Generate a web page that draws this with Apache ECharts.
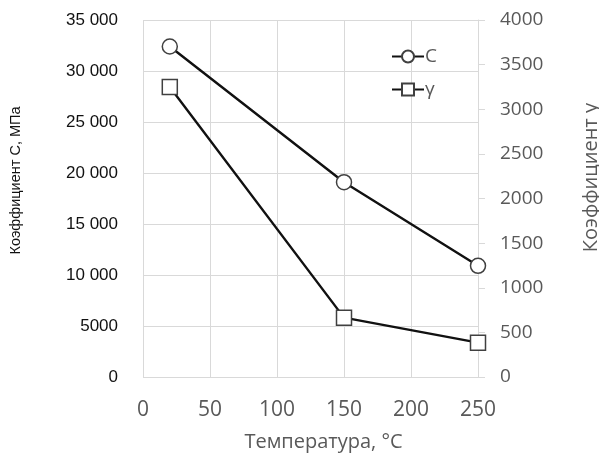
<!DOCTYPE html>
<html><head><meta charset="utf-8">
<script src="https://cdn.jsdelivr.net/npm/echarts@6/dist/echarts.min.js"></script>
<style>html,body{margin:0;padding:0;background:#fff}#c{width:599px;height:461px}</style>
</head><body><div id="c"></div>
<script>
const temps = [20, 150, 250];
const coefC = [32400, 19100, 10900];
const coefGamma = [3250, 665, 385];
const xTicks = [0, 50, 100, 150, 200, 250];
const seriesNames = ['C', 'γ'];

const gray = '#595959';
const gridCol = '#d9d9d9';
const chart = echarts.init(document.getElementById('c'), null, {renderer: 'canvas'});
function fmtLeft(v){ return v >= 10000 ? String(v).replace(/(\d)(?=(\d{3})+$)/g, '$1 ') : String(v); }
chart.setOption({
  animation: false,
  backgroundColor: '#fff',
  grid: {left: 143, right: 121, top: 20, bottom: 84, containLabel: false, outerBoundsMode: 'none'},
  legend: {
    orient: 'vertical', left: 386, top: 42, itemGap: 14, itemWidth: 32, itemHeight: 15,
    textStyle: {color: gray, fontFamily: 'Open Sans', fontSize: 19, padding: [0,0,0,-4]},
    data: seriesNames
  },
  xAxis: {
    type: 'value', min: 0, max: 250, interval: 50,
    name: 'Температура, °C', nameLocation: 'middle', nameGap: 55,
    nameTextStyle: {color: gray, fontFamily: 'Open Sans', fontSize: 20, padding: [0,0,0,26]},
    axisLine: {show: false}, axisTick: {show: false},
    axisLabel: {color: gray, fontFamily: 'Open Sans', fontSize: 21, margin: 23,
      formatter: v => xTicks.includes(v) ? String(v) : ''},
    splitLine: {show: true, lineStyle: {color: gridCol, width: 1}}
  },
  yAxis: [{
    type: 'value', min: 0, max: 35000, interval: 5000, position: 'left',
    name: 'Коэффициент С, МПа', nameLocation: 'middle', nameGap: 120, nameRotate: 90,
    nameTextStyle: {color: '#111', fontFamily: 'Liberation Sans', fontSize: 14.5, padding: [0,0,0,36]},
    axisLine: {show: false}, axisTick: {show: false},
    axisLabel: {color: '#111', fontFamily: 'Liberation Sans', fontSize: 17, margin: 25, padding: [0,0,6,0], formatter: fmtLeft},
    splitLine: {show: true, lineStyle: {color: gridCol, width: 1}}
  }, {
    type: 'value', min: 0, max: 4000, interval: 500, position: 'right',
    name: 'Коэффициент γ', nameLocation: 'middle', nameGap: 103, nameRotate: 90,
    nameTextStyle: {color: gray, fontFamily: 'Open Sans', fontSize: 20, padding: [0,0,0,42]},
    axisLine: {show: true, lineStyle: {color: gridCol}},
    axisTick: {show: true, length: 7, lineStyle: {color: gridCol}},
    axisLabel: {color: gray, fontFamily: 'Open Sans', fontSize: 19, margin: 22, formatter: v => String(v)},
    splitLine: {show: false}
  }],
  series: [{
    name: seriesNames[0], type: 'line', yAxisIndex: 0,
    data: temps.map((t,i)=>[t, coefC[i]]),
    symbol: 'circle', symbolSize: 15, showAllSymbol: true,
    lineStyle: {color: '#111', width: 2.4},
    itemStyle: {color: '#fff', borderColor: '#404040', borderWidth: 1.5}
  }, {
    name: seriesNames[1], type: 'line', yAxisIndex: 1,
    data: temps.map((t,i)=>[t, coefGamma[i]]),
    symbol: 'rect', symbolSize: 15, showAllSymbol: true,
    lineStyle: {color: '#111', width: 2.4},
    itemStyle: {color: '#fff', borderColor: '#404040', borderWidth: 1.5}
  }]
});
</script></body></html>
